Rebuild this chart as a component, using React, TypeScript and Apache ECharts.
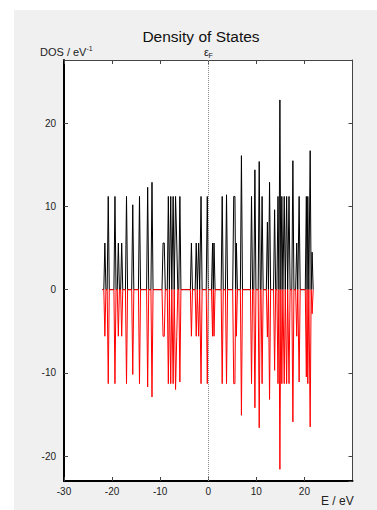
import React, { useEffect, useRef } from "react";
import * as echarts from "echarts";

// Peak energies (eV) of the spin-resolved density of states
const peakEnergies = [
  -21.5, -20.8, -19.4, -18.7, -18.0, -17.0, -15.7, -14.3, -12.6, -11.7,
  -9.4, -9.15, -8.3, -7.8, -7.3, -6.8, -6.55, -5.9, -3.5, -2.5,
  -2.0, -1.5, -0.2, 0.9, 1.2, 2.9, 3.8, 5.3, 5.55, 5.85,
  6.9, 9.0, 9.7, 10.6, 11.2, 12.3, 12.75, 13.8, 14.5, 14.9,
  15.3, 15.8, 16.3, 16.8, 17.6, 18.4, 18.9, 20.4, 20.7, 21.2, 21.6,
];
// Spin-up DOS (black)
const dosUp = [
  5.6, 11.2, 11.2, 5.6, 5.6, 11.2, 10.2, 11.2, 12.3, 12.9,
  5.6, 5.6, 11.2, 11.2, 11.2, 11.2, 5.6, 11.2, 5.6, 5.6,
  5.6, 11.2, 11.2, 5.6, 5.6, 11.2, 11.4, 11.2, 11.2, 5.6,
  16.1, 11.2, 14.4, 15.4, 11.2, 8.1, 12.9, 9.6, 11.2, 22.8,
  11.2, 11.2, 11.2, 11.2, 15.5, 5.6, 11.2, 11.2, 11.2, 16.7, 4.5,
];
// Spin-down DOS (red)
const dosDown = [
  -5.6, -11.3, -11.3, -5.6, -5.6, -11.3, -10.2, -11.3, -11.7, -12.9,
  -5.6, -5.6, -11.3, -11.3, -11.3, -12.0, -5.6, -11.1, -5.6, -5.6,
  -5.6, -11.3, -11.3, -5.6, -5.6, -11.3, -11.3, -11.3, -11.3, -5.6,
  -15.1, -11.3, -14.2, -16.6, -11.3, -5.7, -13.2, -9.7, -11.3, -21.6,
  -11.3, -11.3, -11.3, -11.3, -15.9, -5.6, -11.1, -10.5, -11.3, -16.5, -2.9,
];
// Energy window of the computed DOS (zero outside peaks)
const bandStart = -22.0;
const bandEnd = 21.9;
const peakHalfWidth = 0.22;
const mergeGap = 0.28;

const xTicks = [-30, -20, -10, 0, 10, 20];

function buildCurve(values: number[]): number[][] {
  const pts: number[][] = [[bandStart, 0]];
  const n = peakEnergies.length;
  pts.push([peakEnergies[0] - peakHalfWidth, 0]);
  for (let i = 0; i < n; i++) {
    const e = peakEnergies[i];
    pts.push([e, values[i]]);
    if (i < n - 1) {
      const next = peakEnergies[i + 1];
      const gap = next - e;
      if (gap > mergeGap) {
        if (gap >= 2 * peakHalfWidth) {
          pts.push([e + peakHalfWidth, 0]);
          pts.push([next - peakHalfWidth, 0]);
        } else {
          pts.push([(e + next) / 2, 0]);
        }
      }
    }
  }
  pts.push([peakEnergies[n - 1] + peakHalfWidth, 0]);
  pts.push([bandEnd, 0]);
  return pts;
}

const FONT = "'Liberation Sans', Arial, sans-serif";

export default function App() {
  const ref = useRef<HTMLDivElement>(null);
  useEffect(() => {
    if (!ref.current) return;
    const chart = echarts.init(ref.current, null, { renderer: "svg" });
    const tickStyle = { show: true, inside: true, length: 4, lineStyle: { color: "#444", width: 1 } };
    const option: any = {
      animation: false,
      backgroundColor: "transparent",
      grid: {
        left: 64,
        top: 60,
        right: 24.5,
        bottom: 29,
        show: true,
        backgroundColor: "#ffffff",
        borderWidth: 0,
      },
      xAxis: [
        {
          type: "value",
          position: "bottom",
          min: -30,
          max: 30,
          interval: 10,
          axisLine: { show: true, onZero: false, lineStyle: { color: "#000", width: 2 } },
          axisTick: tickStyle,
          splitLine: { show: false },
          axisLabel: {
            show: true,
            margin: 5,
            fontSize: 10,
            color: "#222",
            fontFamily: FONT,
            showMaxLabel: false,
            formatter: (v: number) => (xTicks.indexOf(v) >= 0 ? String(v) : ""),
          },
        },
        {
          type: "value",
          position: "top",
          min: -30,
          max: 30,
          interval: 10,
          axisLine: { show: true, onZero: false, lineStyle: { color: "#444", width: 1 } },
          axisTick: tickStyle,
          splitLine: { show: false },
          axisLabel: { show: false },
        },
      ],
      yAxis: [
        {
          type: "value",
          position: "left",
          min: -23,
          max: 27.6,
          splitNumber: 5,
          minInterval: 10,
          maxInterval: 10,
          axisLine: { show: true, onZero: false, lineStyle: { color: "#000", width: 2 } },
          axisTick: tickStyle,
          splitLine: { show: false },
          axisLabel: {
            show: true,
            margin: 8,
            fontSize: 10,
            color: "#222",
            fontFamily: FONT,
            showMinLabel: false,
            showMaxLabel: false,
          },
        },
        {
          type: "value",
          position: "right",
          min: -23,
          max: 27.6,
          splitNumber: 5,
          minInterval: 10,
          maxInterval: 10,
          axisLine: { show: true, onZero: false, lineStyle: { color: "#444", width: 1 } },
          axisTick: tickStyle,
          splitLine: { show: false },
          axisLabel: { show: false },
        },
      ],
      series: [
        {
          type: "line",
          name: "up",
          xAxisIndex: 0,
          yAxisIndex: 0,
          data: buildCurve(dosUp),
          showSymbol: false,
          symbol: "none",
          lineStyle: { color: "#000", width: 1 },
          z: 3,
          markLine: {
            silent: true,
            symbol: ["none", "none"],
            label: { show: false },
            lineStyle: { color: "#8a8a8a", type: [1, 1], width: 1 },
            data: [{ xAxis: 0 }],
          },
        },
        {
          type: "line",
          name: "down",
          xAxisIndex: 0,
          yAxisIndex: 0,
          data: buildCurve(dosDown),
          showSymbol: false,
          symbol: "none",
          lineStyle: { color: "#ff0000", width: 1 },
          z: 4,
        },
      ],
      graphic: [
        {
          type: "text",
          x: 201,
          y: 36,
          style: {
            text: "Density of States",
            font: `15.5px ${FONT}`,
            fill: "#111",
            align: "center",
            verticalAlign: "middle",
          },
        },
        {
          type: "text",
          x: 40,
          y: 52,
          style: {
            text: "DOS / eV",
            font: `11px ${FONT}`,
            fill: "#222",
            align: "left",
            verticalAlign: "middle",
          },
        },
        {
          type: "text",
          x: 86.5,
          y: 48.5,
          style: {
            text: "-1",
            font: `7px ${FONT}`,
            fill: "#222",
            align: "left",
            verticalAlign: "middle",
          },
        },
        {
          type: "text",
          x: 204,
          y: 52,
          style: {
            text: "ε",
            font: `11px ${FONT}`,
            fill: "#222",
            align: "left",
            verticalAlign: "middle",
          },
        },
        {
          type: "text",
          x: 208.5,
          y: 55,
          style: {
            text: "F",
            font: `7px ${FONT}`,
            fill: "#222",
            align: "left",
            verticalAlign: "middle",
          },
        },
        {
          type: "text",
          x: 321,
          y: 501,
          style: {
            text: "E / eV",
            font: `12px ${FONT}`,
            fill: "#222",
            align: "left",
            verticalAlign: "middle",
          },
        },
      ],
    };
    chart.setOption(option);
    return () => chart.dispose();
  }, []);

  return (
    <div style={{ position: "fixed", left: 0, top: 0, width: 377, height: 510, background: "#ffffff" }}>
      <div
        style={{ position: "absolute", left: 14, top: 10, width: 363, height: 500, background: "#f0f0f0" }}
      />
      <div ref={ref} style={{ position: "absolute", left: 0, top: 0, width: 377, height: 510 }} />
    </div>
  );
}
